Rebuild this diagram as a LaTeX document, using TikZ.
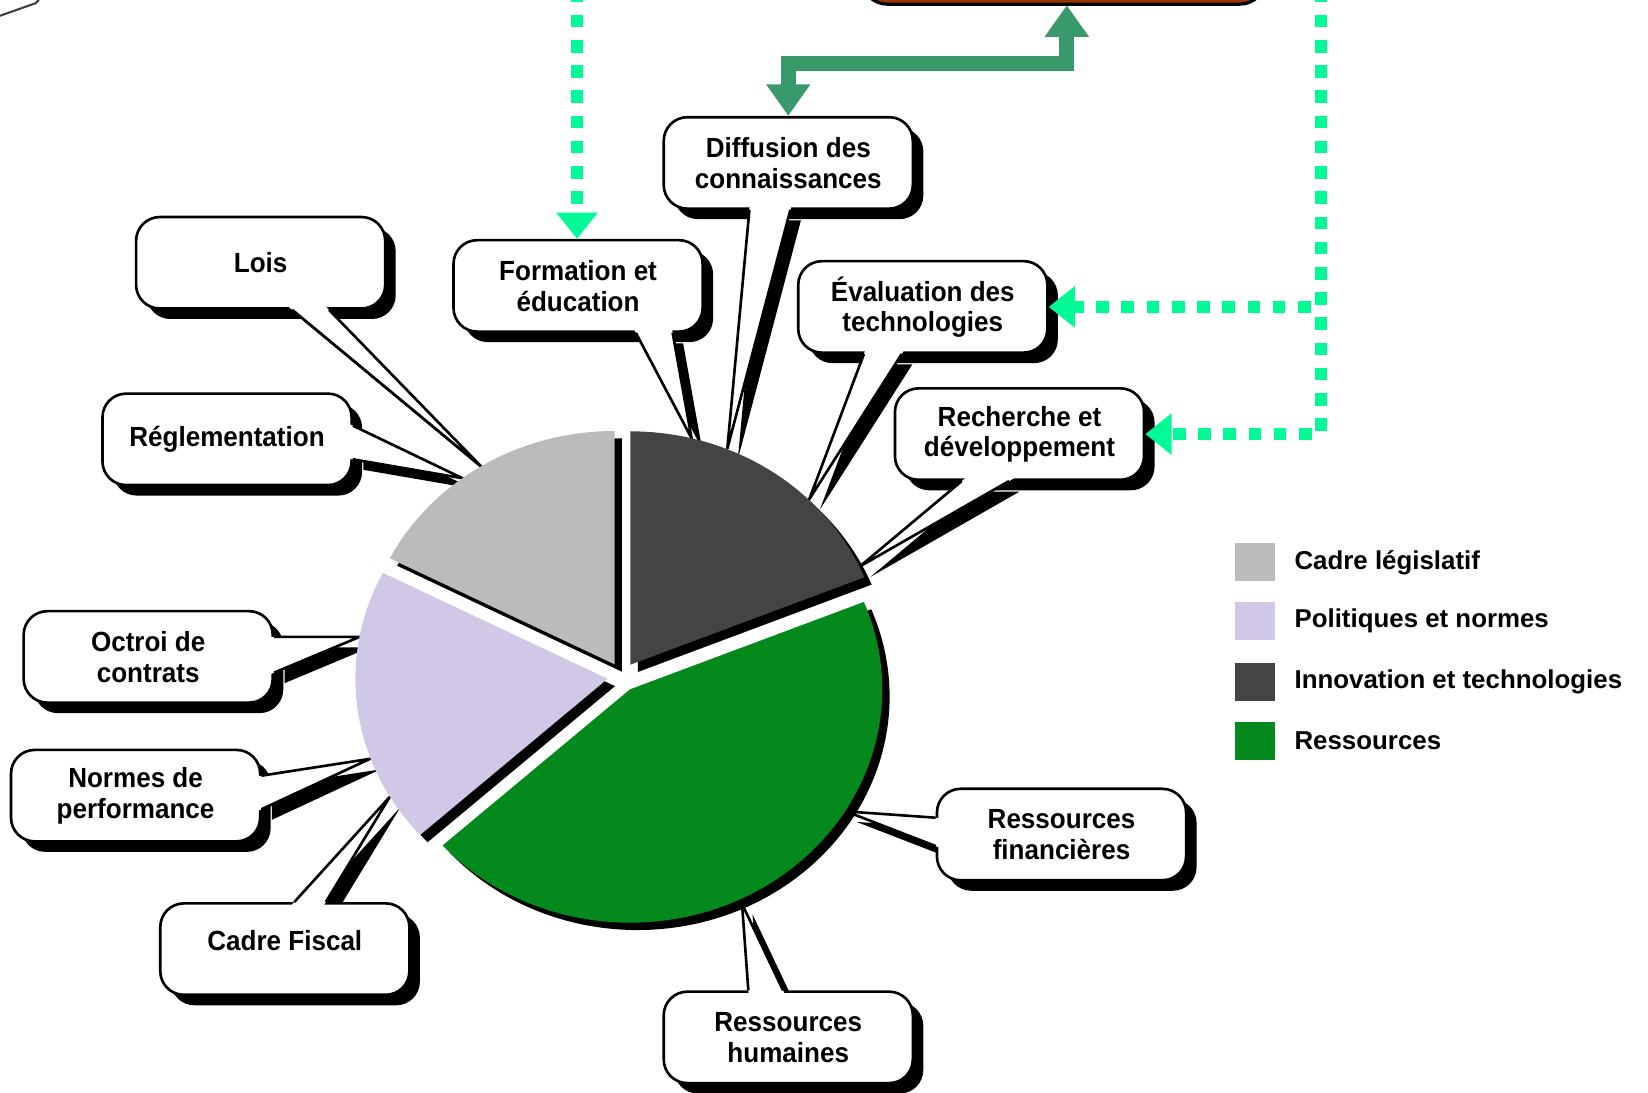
\documentclass[tikz,border=0pt]{standalone}
\usepackage{fontspec}
\setmainfont{Liberation Sans}
\newfontfamily\calloutfont{Liberation Sans}[FakeStretch=0.94]
\usetikzlibrary{positioning,calc,arrows.meta,shadows}
\pgfdeclarelayer{background}
\pgfsetlayers{background,main}

\definecolor{cadregray}{RGB}{187,187,187}
\definecolor{politlav}{RGB}{208,200,230}
\definecolor{innovdark}{RGB}{68,68,68}
\definecolor{resgreen}{RGB}{4,138,28}
\definecolor{linkgreen}{RGB}{56,154,106}
\definecolor{feedgreen}{RGB}{0,250,150}
\definecolor{fundbrown}{RGB}{153,51,0}

\tikzset{
  callout/.style={draw, line width=0.5mm, fill=white, rounded corners=4.5mm,
    minimum width=47.4mm, minimum height=17.4mm, align=center,
    font=\calloutfont\bfseries\fontsize{15}{16.5}\selectfont,
    drop shadow={shadow xshift=2mm, shadow yshift=-2mm, opacity=1, fill=black}},
  tailline/.style={line width=0.5mm},
  feed/.style={feedgreen, line width=2.4mm, dash pattern=on 2.4mm off 2.4mm,
    -{Triangle[width=7.6mm,length=5mm]}},
  link/.style={linkgreen, line width=2.8mm,
    {Triangle[width=8mm,length=6mm]}-{Triangle[width=8mm,length=6mm]}},
  legendkey/.style={minimum width=7.6mm, minimum height=7.2mm, inner sep=0pt},
  legendtext/.style={font=\bfseries\fontsize{14}{17}\selectfont, inner sep=0pt},
}

% anchor, offset a, offset b, tip on the pie
\newcommand{\calltail}[4]{%
  \coordinate (ta) at ($(#1)+(#2)$);
  \coordinate (tb) at ($(#1)+(#3)$);
  \begin{pgfonlayer}{background}
    \fill[black] ($(ta)+(10,10)$) -- ($(#4)+(10,10)$) -- ($(tb)+(10,10)$) -- cycle;
  \end{pgfonlayer}
  \fill[white] ($(ta)!-0.06!(#4)$) -- (#4) -- ($(tb)!-0.06!(#4)$) -- cycle;
  \draw[tailline] (ta) -- (#4) -- (tb);
}

\begin{document}
\begin{tikzpicture}[x=0.2mm, y=-0.2mm]
\useasboundingbox (0,0) rectangle (1568,1039);

% cut off parts at the top
\node[draw, line width=0.6mm, fill=fundbrown, rounded corners=5mm,
  minimum width=77mm, minimum height=14mm] (fundbox) at (1012,-31) {};
\draw[line width=0.4mm, black!75] (0,15) -- (34,3) -- (37,0);

% callouts
\node[callout] (lois) at (248,250) {Lois};
\node[callout] (regl) at (216,418) {Réglementation};
\node[callout] (formation) at (550,272) {Formation et\\éducation};
\node[callout] (diffusion) at (750,155) {Diffusion des\\connaissances};
\node[callout] (evaluation) at (878,292) {Évaluation des\\technologies};
\node[callout] (recherche) at (970,413) {Recherche et\\développement};
\node[callout] (octroi) at (141,625) {Octroi de\\contrats};
\node[callout] (normes) at (129,757) {Normes de\\performance};
\node[callout, text depth=9pt] (fiscal) at (271,903) {Cadre Fiscal};
\node[callout] (financieres) at (1010,794) {Ressources\\financières};
\node[callout] (humaines) at (750,987) {Ressources\\humaines};

% where the tails meet the pie
\coordinate (lois-tip) at (458,444);
\coordinate (regl-tip) at (440,455);
\coordinate (formation-tip) at (658,417);
\coordinate (diffusion-tip) at (692,427);
\coordinate (evaluation-tip) at (770,475);
\coordinate (recherche-tip) at (818,539);
\coordinate (octroi-tip) at (342,606);
\coordinate (normes-tip) at (352,722);
\coordinate (fiscal-tip) at (371,758);
\coordinate (financieres-tip) at (805,772);
\coordinate (humaines-tip) at (706,860);

\calltail{lois.south}{30,0}{65,0}{lois-tip}
\calltail{regl.east}{0,-13}{0,19}{regl-tip}
\calltail{formation.south}{55,0}{90,0}{formation-tip}
\calltail{diffusion.south}{-37,0}{2,0}{diffusion-tip}
\calltail{evaluation.south}{-56,0}{-20,0}{evaluation-tip}
\calltail{recherche.south}{-55,0}{-10,0}{recherche-tip}
\calltail{octroi.east}{0,-19}{0,15}{octroi-tip}
\calltail{normes.east}{0,-19}{0,13}{normes-tip}
\calltail{fiscal.north}{9,0}{39,0}{fiscal-tip}
\calltail{financieres.west}{0,-16}{0,11}{financieres-tip}
\calltail{humaines.north}{-38,0}{-5,0}{humaines-tip}

% exploded pie
\begin{scope}[shift={(592,644)}, yscale=-1]
  \begin{scope}[shift={(7,-7)}]
    \foreach \a/\b in {22/90, 90/153, 153/222, 222/382}
      \fill[black] ({(\a+\b)/2}:14) -- ++(\a:240 and 222)
        arc[start angle=\a, end angle=\b, x radius=240, y radius=222] -- cycle;
  \end{scope}
  \foreach \a/\b/\col in {22/90/innovdark, 90/153/cadregray, 153/222/politlav, 222/382/resgreen}
    \fill[\col] ({(\a+\b)/2}:14) -- ++(\a:240 and 222)
      arc[start angle=\a, end angle=\b, x radius=240, y radius=222] -- cycle;
\end{scope}

% legend
\node[legendkey, fill=cadregray] (kcadre) at (1194,535) {};
\node[legendtext, right=3.6mm of kcadre] (tcadre) {Cadre législatif};
\node[legendkey, fill=politlav] (kpolit) at (1194,591) {};
\node[legendtext, right=3.6mm of kpolit] (tpolit) {Politiques et normes};
\node[legendkey, fill=innovdark] (kinnov) at (1194,649) {};
\node[legendtext, right=3.6mm of kinnov] (tinnov) {Innovation et technologies};
\node[legendkey, fill=resgreen] (kres) at (1194,705) {};
\node[legendtext, right=3.6mm of kres] (tres) {Ressources};

% arrows
\coordinate (feedleft) at (549,-10);
\coordinate (feedright) at (1257,-10);
\coordinate (linktop) at (1015,5);
\draw[feed] (feedleft) -- (feedleft |- formation.north);
\draw[feed] (feedright) |- (evaluation.east);
\draw[feed] (feedright) |- (recherche.east);
\draw[link] (diffusion.north) -- ++(0,-50) -| (linktop);
\end{tikzpicture}
\end{document}
